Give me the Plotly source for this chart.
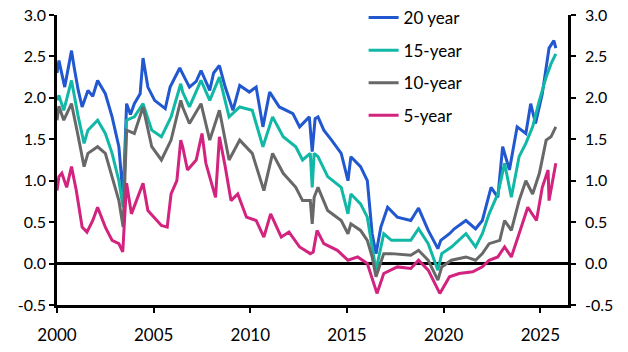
import plotly.graph_objects as go

# 20 year
x20 = [2000.0, 2000.1, 2000.4, 2000.75, 2000.9, 2001.1, 2001.3, 2001.6, 2001.85, 2002.1, 2002.5, 2002.85,
       2003.2, 2003.42, 2003.6, 2003.8, 2004.0, 2004.3, 2004.45, 2004.7, 2005.05, 2005.6, 2005.85, 2006.2,
       2006.35, 2006.5, 2006.85, 2007.2, 2007.45, 2007.9, 2008.1, 2008.4, 2008.7, 2009.1, 2009.45, 2009.95,
       2010.3, 2010.65, 2011.0, 2011.5, 2012.2, 2012.55, 2013.05, 2013.2, 2013.35, 2013.5, 2013.8, 2014.2,
       2014.7, 2015.05, 2015.2, 2015.7, 2016.05, 2016.3, 2016.5, 2016.75, 2017.1, 2017.6, 2018.3, 2018.7,
       2019.2, 2019.7, 2019.85, 2020.3, 2020.55, 2021.15, 2021.65, 2022.0, 2022.45, 2022.8, 2023.05, 2023.4,
       2023.8, 2024.25, 2024.5, 2024.75, 2025.1, 2025.45, 2025.7, 2025.8]
y20 = [2.30, 2.45, 2.13, 2.57, 2.35, 2.09, 1.89, 2.09, 2.02, 2.21, 2.05, 1.77,
       1.41, 0.80, 1.93, 1.80, 1.93, 2.05, 2.48, 2.13, 1.97, 1.87, 2.13, 2.30,
       2.36, 2.29, 2.13, 2.20, 2.33, 2.09, 2.30, 2.39, 2.13, 1.85, 2.15, 2.07,
       2.13, 1.65, 2.07, 1.89, 1.81, 1.65, 1.77, 1.35, 1.75, 1.77, 1.61, 1.49,
       1.33, 1.00, 1.29, 1.17, 1.00, 0.36, 0.12, 0.44, 0.68, 0.56, 0.52, 0.67,
       0.40, 0.18, 0.28, 0.36, 0.42, 0.52, 0.42, 0.52, 0.92, 0.80, 1.41, 1.13,
       1.65, 1.57, 1.93, 1.69, 2.05, 2.60, 2.69, 2.60]

# 15-year
x15 = [2000.0, 2000.1, 2000.35, 2000.75, 2001.1, 2001.4, 2001.6, 2002.1, 2002.5, 2002.85, 2003.2, 2003.42,
       2003.6, 2004.0, 2004.45, 2004.9, 2005.4, 2005.9, 2006.4, 2006.5, 2006.85, 2007.45, 2007.9, 2008.4,
       2008.9, 2009.45, 2010.1, 2010.65, 2011.15, 2011.7, 2012.35, 2012.7, 2013.1, 2013.2, 2013.3, 2013.5,
       2014.0, 2014.7, 2015.05, 2015.2, 2015.7, 2016.05, 2016.3, 2016.5, 2016.9, 2017.3, 2018.3, 2018.7,
       2019.2, 2019.7, 2019.9, 2020.4, 2021.15, 2021.65, 2022.0, 2022.35, 2022.8, 2023.15, 2023.5, 2023.9,
       2024.25, 2024.6, 2024.95, 2025.3, 2025.55, 2025.8]
y15 = [1.97, 2.03, 1.85, 2.21, 1.77, 1.45, 1.61, 1.73, 1.57, 1.33, 1.00, 0.68,
       1.73, 1.77, 1.93, 1.61, 1.53, 1.77, 2.17, 2.07, 1.89, 2.21, 1.97, 2.25,
       1.77, 1.89, 1.85, 1.41, 1.77, 1.53, 1.41, 1.25, 1.33, 0.92, 1.33, 1.29,
       1.05, 0.92, 0.60, 0.84, 0.72, 0.56, 0.20, -0.08, 0.36, 0.28, 0.28, 0.42,
       0.24, -0.08, 0.12, 0.20, 0.36, 0.20, 0.36, 0.60, 0.84, 1.21, 0.80, 1.29,
       1.45, 1.65, 1.97, 2.25, 2.41, 2.53]

# 10-year
x10 = [2000.0, 2000.1, 2000.35, 2000.75, 2001.1, 2001.4, 2001.6, 2002.1, 2002.5, 2002.85, 2003.2, 2003.42,
       2003.6, 2004.0, 2004.45, 2004.9, 2005.4, 2005.9, 2006.4, 2006.5, 2006.85, 2007.45, 2007.9, 2008.4,
       2008.9, 2009.45, 2010.1, 2010.7, 2011.15, 2011.7, 2012.35, 2012.7, 2013.1, 2013.2, 2013.3, 2013.5,
       2014.0, 2014.7, 2015.05, 2015.2, 2015.7, 2016.05, 2016.3, 2016.5, 2016.9, 2017.3, 2018.3, 2018.7,
       2019.2, 2019.7, 2019.9, 2020.4, 2021.15, 2021.65, 2022.0, 2022.35, 2022.9, 2023.15, 2023.5, 2023.9,
       2024.25, 2024.6, 2024.95, 2025.3, 2025.55, 2025.8]
y10 = [1.73, 1.90, 1.73, 1.93, 1.53, 1.17, 1.33, 1.41, 1.33, 1.05, 0.76, 0.44,
       1.61, 1.57, 1.89, 1.41, 1.25, 1.49, 1.97, 1.89, 1.69, 1.93, 1.49, 1.85,
       1.25, 1.49, 1.33, 0.88, 1.33, 1.09, 0.92, 0.76, 0.76, 0.48, 0.80, 0.92,
       0.64, 0.52, 0.36, 0.48, 0.40, 0.28, 0.08, -0.16, 0.12, 0.12, 0.10, 0.16,
       0.04, -0.20, -0.04, 0.04, 0.08, 0.04, 0.12, 0.24, 0.28, 0.52, 0.40, 0.76,
       1.00, 0.84, 1.09, 1.49, 1.53, 1.65]

# 5-year
x5 = [2000.0, 2000.1, 2000.25, 2000.5, 2000.75, 2001.0, 2001.3, 2001.55, 2001.85, 2002.1, 2002.5, 2002.85,
      2003.2, 2003.4, 2003.6, 2003.85, 2004.45, 2004.7, 2005.05, 2005.4, 2005.7, 2005.9, 2006.2, 2006.4,
      2006.5, 2006.75, 2007.2, 2007.5, 2007.7, 2008.2, 2008.4, 2008.7, 2009.0, 2009.35, 2009.8, 2010.3,
      2010.7, 2011.05, 2011.6, 2012.0, 2012.55, 2013.1, 2013.25, 2013.45, 2013.8, 2014.5, 2015.05, 2015.55,
      2016.05, 2016.25, 2016.55, 2016.9, 2017.6, 2018.3, 2018.7, 2019.2, 2019.8, 2020.3, 2020.8, 2021.5,
      2022.0, 2022.35, 2022.8, 2023.15, 2023.5, 2023.9, 2024.35, 2024.8, 2025.1, 2025.4, 2025.45, 2025.8]
y5 = [0.88, 1.05, 1.09, 0.92, 1.17, 0.88, 0.44, 0.38, 0.52, 0.68, 0.44, 0.28,
      0.24, 0.14, 0.97, 0.60, 0.97, 0.64, 0.55, 0.46, 0.44, 0.84, 1.00, 1.49,
      1.41, 1.13, 1.25, 1.57, 1.21, 0.80, 1.53, 1.17, 0.76, 0.84, 0.56, 0.52,
      0.32, 0.60, 0.32, 0.38, 0.20, 0.12, 0.14, 0.40, 0.24, 0.16, 0.04, 0.08,
      0.00, -0.15, -0.36, -0.12, -0.04, -0.06, 0.04, -0.08, -0.36, -0.16, -0.12, -0.10,
      -0.04, 0.04, 0.08, 0.20, 0.08, 0.36, 0.68, 0.52, 0.92, 1.13, 0.76, 1.21]

names = ["20 year", "15-year", "10-year", "5-year"]
colors = ["#2157cf", "#12b8a6", "#686868", "#d2237e"]
tick_years = [2000, 2005, 2010, 2015, 2020, 2025]
y_ticks = [-0.5, 0.0, 0.5, 1.0, 1.5, 2.0, 2.5, 3.0]

series = [(x20, y20), (x15, y15), (x10, y10), (x5, y5)]
FONT = "Lato"

fig = go.Figure()
for (xs, ys), nm, c in zip(series, names, colors):
    fig.add_trace(go.Scatter(x=xs, y=ys, name=nm, mode="lines",
                             line=dict(color=c, width=3), legendgroup=nm))
# invisible trace to anchor right axis
fig.add_trace(go.Scatter(x=[2000], y=[0], yaxis="y2", showlegend=False,
                         mode="markers", marker=dict(opacity=0), hoverinfo="skip"))

axis_common = dict(showgrid=False, showline=True, linecolor="black", linewidth=2.5,
                   ticks="outside", ticklen=5, tickwidth=2, tickcolor="black")

fig.update_layout(
    width=628, height=352,
    margin=dict(l=57, r=60, t=15, b=47, autoexpand=False),
    paper_bgcolor="white", plot_bgcolor="white",
    font=dict(family=FONT, size=16, color="black"),
    showlegend=True,
    legend=dict(x=0.60, y=1.0, xref="paper", yref="container", xanchor="left", yanchor="top",
                font=dict(size=17, family=FONT), bgcolor="rgba(0,0,0,0)",
                traceorder="grouped", tracegroupgap=7.5),
    xaxis=dict(range=[2000, 2026.43], tickvals=tick_years, ticktext=[str(t) for t in tick_years],
               zeroline=False, tickfont=dict(size=17), ticklabelstandoff=8, **axis_common),
    yaxis=dict(range=[-0.5, 3.0], tickvals=y_ticks, ticktext=[f"{v:.1f}" for v in y_ticks],
               zeroline=True, zerolinecolor="black", zerolinewidth=2.5,
               tickfont=dict(size=16), ticklabelstandoff=0, **axis_common),
    yaxis2=dict(range=[-0.5, 3.0], overlaying="y", side="right", tickvals=y_ticks,
                ticktext=[f"{v:.1f}" for v in y_ticks], zeroline=False,
                tickfont=dict(size=16), ticklabelstandoff=6, **axis_common),
)

fig.write_html("out.html")
